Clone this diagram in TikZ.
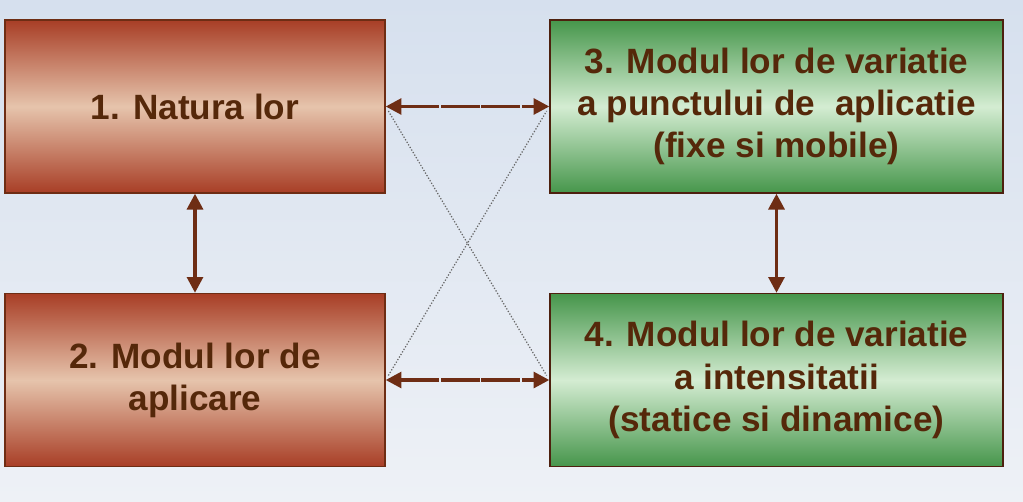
\documentclass[tikz,border=0pt]{standalone}
\usepackage{fontspec}
\setmainfont{Liberation Sans}
\usetikzlibrary{arrows.meta}
\definecolor{brd}{RGB}{110,45,20}
\definecolor{txt}{RGB}{85,40,10}
\definecolor{redd}{RGB}{168,62,38}
\definecolor{redl}{RGB}{230,196,172}
\definecolor{grnd}{RGB}{70,150,75}
\definecolor{grnl}{RGB}{212,236,210}
\definecolor{bgtop}{RGB}{214,224,238}
\definecolor{bgbot}{RGB}{238,241,246}
\tikzset{
  redbox/.style={draw=brd,line width=0.8pt,top color=redd,bottom color=redd,middle color=redl,
    minimum width=7.6cm,minimum height=3.46cm,align=center,font=\bfseries\fontsize{20}{24}\selectfont,text=txt},
  grnbox/.style={redbox,draw=brd!70!black,top color=grnd,bottom color=grnd,middle color=grnl,minimum width=9.06cm},
  link/.style={{Triangle[width=9pt,length=9pt]}-{Triangle[width=9pt,length=9pt]},draw=brd,line width=2pt},
  cross/.style={gray!80!black,densely dotted,line width=0.7pt},
}
\begin{document}
\begin{tikzpicture}[x=0.02cm,y=-0.02cm]
    \shade[top color=bgtop,bottom color=bgbot] (0,0) rectangle (1023,501);
    \useasboundingbox (0,0) rectangle (1023,501);
    \node[redbox] (natura) at (195,106.5) {1. Natura lor};
    \node[redbox] (aplic) at (195,380) {2. Modul lor de\\aplicare};
    \node[grnbox] (punct) at (776.5,106.5) {3. Modul lor de variatie\\a punctului de\ \ aplicatie\\(fixe si mobile)};
    \node[grnbox] (intens) at (776.5,380) {4. Modul lor de variatie\\a intensitatii\\(statice si dinamice)};
    \draw[cross,shorten <=3pt,shorten >=3pt] (natura.east) -- (intens.west);
    \draw[cross,shorten <=3pt,shorten >=3pt] (aplic.east) -- (punct.west);
    \draw[link,dash pattern=on 22pt off 1pt] (natura.east) -- (punct.west);
    \draw[link,dash pattern=on 22pt off 1pt] (aplic.east) -- (intens.west);
    \draw[link] (natura.south) -- (aplic.north);
    \draw[link] (punct.south) -- (intens.north);
  \end{tikzpicture}
\end{document}
